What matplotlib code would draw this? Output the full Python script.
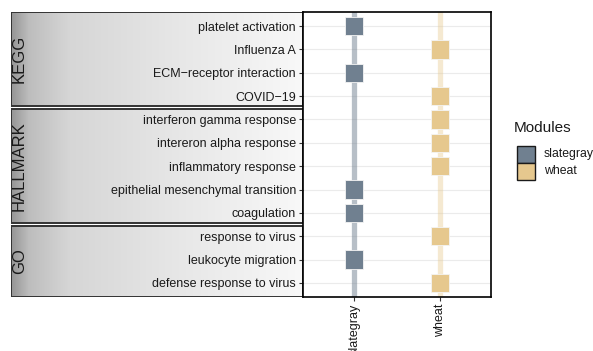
import numpy as np
import matplotlib
matplotlib.use("Agg")
import matplotlib.pyplot as plt
from matplotlib.colors import LinearSegmentedColormap
from matplotlib.patches import Rectangle

plt.rcParams["font.family"] = ["Liberation Sans", "DejaVu Sans"]

# ---- data -----------------------------------------------------------------
TERMS = [
    "platelet activation", "Influenza A", "ECM\u2212receptor interaction", "COVID\u221219",
    "interferon gamma response", "intereron alpha response", "inflammatory response",
    "epithelial mesenchymal transition", "coagulation",
    "response to virus", "leukocyte migration", "defense response to virus",
]
TERM_MODULE = [
    "slategray", "wheat", "slategray", "wheat",
    "wheat", "wheat", "wheat", "slategray", "slategray",
    "wheat", "slategray", "wheat",
]
GROUPS = ["KEGG", "HALLMARK", "GO"]
GROUP_SIZES = [4, 5, 3]
MODULES = ["slategray", "wheat"]

COLORS = {"slategray": "#708090", "wheat": "#E6C88E"}
LINE_ALPHA = {"slategray": 0.5, "wheat": 0.4}

W, H, DPI = 593, 351, 100
fig = plt.figure(figsize=(W / DPI, H / DPI), dpi=DPI)


def fx(px):
    return px / W


def fy(py):
    return 1 - py / H


PANEL_L, PANEL_R, PANEL_T, PANEL_B = 303, 491, 12, 297
STRIP_L = 11

ylim = (len(TERMS) - 0.4, -0.6)
xlim = (-0.6, len(MODULES) - 0.4)

# ---- strip area (gradient boxes behind the labels) --------------------------
sax = fig.add_axes([fx(STRIP_L), fy(PANEL_B), fx(PANEL_R - STRIP_L), fy(PANEL_T) - fy(PANEL_B)])
sax.set_xlim(0, 1)
sax.set_ylim(*ylim)
sax.axis("off")

grad = LinearSegmentedColormap.from_list(
    "strip", [(0, "#959595"), (0.06, "#bdbdbd"), (0.2, "#d6d6d6"),
              (0.55, "#e6e6e6"), (1, "#f8f8f8")])
strip_w = (PANEL_L - STRIP_L) / (PANEL_R - STRIP_L)
gap = 0.06
start = 0
for g, n in zip(GROUPS, GROUP_SIZES):
    y0 = start - 0.5 + (gap if start > 0 else -0.1)
    y1 = start + n - 0.5 - (gap if start + n < len(TERMS) else -0.1)
    sax.imshow(np.linspace(0, 1, 256)[None, :], cmap=grad, aspect="auto",
               extent=(0, strip_w, y1, y0), zorder=1)
    sax.add_patch(Rectangle((0, y0), strip_w, y1 - y0, fill=False,
                            edgecolor="#333333", linewidth=1.4, zorder=2))
    sax.text(0.017, (y0 + y1) / 2, g, rotation=90, ha="center", va="center",
             fontsize=12, color="#1a1a1a", zorder=3)
    start += n
sax.set_ylim(*ylim)

# ---- main panel -------------------------------------------------------------
ax = fig.add_axes([fx(PANEL_L), fy(PANEL_B), fx(PANEL_R - PANEL_L), fy(PANEL_T) - fy(PANEL_B)])
ax.set_facecolor("white")
ax.set_xlim(*xlim)
ax.set_ylim(*ylim)

y = np.arange(len(TERMS))
for yi in y:
    ax.axhline(yi, color="#ebebeb", linewidth=0.8, zorder=0)

for i, m in enumerate(MODULES):
    ax.axvline(i, color=COLORS[m], alpha=LINE_ALPHA[m], linewidth=3.8, zorder=1)

xs = [MODULES.index(m) for m in TERM_MODULE]
cs = [COLORS[m] for m in TERM_MODULE]
ax.scatter(xs, y, marker="s", s=175, c=cs, edgecolors="#f4f4f4",
           linewidths=0.6, zorder=3)

ax.set_yticks(y)
ax.set_yticklabels(TERMS, fontsize=9, color="#1a1a1a")
ax.set_xticks(range(len(MODULES)))
ax.set_xticklabels(MODULES, rotation=90, fontsize=9, color="#1a1a1a", va="top")
ax.tick_params(axis="both", length=3, width=0.8, color="#333333", pad=2)
for sp in ax.spines.values():
    sp.set_linewidth(1.2)
    sp.set_color("black")

# ---- legend -----------------------------------------------------------------
fig.text(fx(514), fy(128), "Modules", fontsize=11, color="#1a1a1a", va="center")
key_w, key_h = 18, 17
for i, m in enumerate(MODULES):
    top = 146 + i * key_h
    fig.patches.append(Rectangle((fx(517), fy(top + key_h)), fx(key_w), fy(top) - fy(top + key_h),
                                 transform=fig.transFigure, facecolor=COLORS[m],
                                 edgecolor="#1a1a1a", linewidth=1.0))
    fig.text(fx(544), fy(top + key_h / 2), m, fontsize=8.8, color="#1a1a1a", va="center")

fig.savefig("out.png", dpi=DPI)
